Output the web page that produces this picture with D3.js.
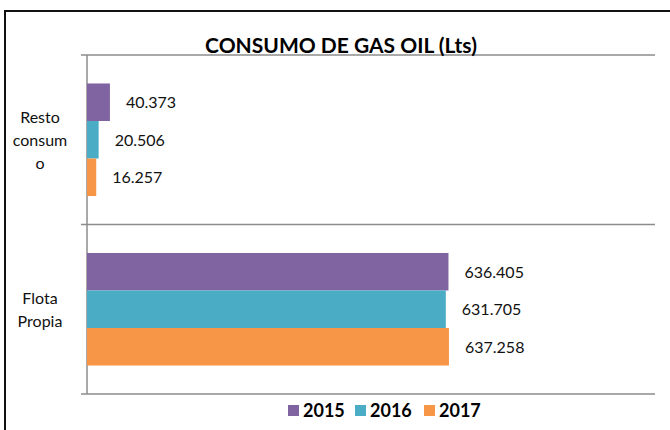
<!DOCTYPE html>
<html>
<head>
<meta charset="utf-8">
<script src="https://cdn.jsdelivr.net/npm/d3@7"></script>
<style>
  body { margin: 0; background: #fff; }
  svg { display: block; font-family: Lato, "Open Sans", sans-serif; }
</style>
</head>
<body>
<svg id="chart" width="670" height="430"></svg>
<script>
// chart data
var categories = ["Resto consumo", "Flota Propia"];
var tickLabels = [["Resto", "consum", "o"], ["Flota", "Propia"]];
var years = ["2015", "2016", "2017"];
var values2015 = [40373, 636405];
var values2016 = [20506, 631705];
var values2017 = [16257, 637258];
var colors = ["#8064a2", "#4bacc6", "#f79646"];

var series = [values2015, values2016, values2017];

var svg = d3.select("#chart"),
    margin = {top: 55, right: 15, bottom: 36, left: 87},
    width = 670 - margin.left - margin.right,
    height = 430 - margin.top - margin.bottom;

// thousands with dots like the original
var fmt = d3.formatLocale({decimal: ",", thousands: ".", grouping: [3], currency: ["", ""]}).format(",.0f");

// outer frame
svg.append("rect")
    .attr("x", 5)
    .attr("y", 11)
    .attr("width", 700)
    .attr("height", 500)
    .style("fill", "none")
    .style("stroke", "#111")
    .style("stroke-width", 2);

var g = svg.append("g").attr("transform", "translate(" + margin.left + "," + margin.top + ")");

var x = d3.scaleLinear()
    .domain([0, 1000000])
    .range([0, width]);

var y = d3.scaleBand()
    .domain(categories)
    .range([0, height])
    .paddingInner(0.336)
    .paddingOuter(0.168);

var y1 = d3.scaleBand()
    .domain(years)
    .range([0, y.bandwidth()]);

// horizontal grid / category separators
var bounds = [0, height / 2, height];
g.selectAll(".grid")
    .data(bounds)
    .enter().append("line")
      .attr("class", "grid")
      .attr("x1", -6)
      .attr("x2", width)
      .attr("y1", function(d) { return d; })
      .attr("y2", function(d) { return d; })
      .style("stroke", "#8c8c8c")
      .style("stroke-width", 1.5);

// vertical axis line
g.append("line")
    .attr("x1", 0)
    .attr("x2", 0)
    .attr("y1", 0)
    .attr("y2", height)
    .style("stroke", "#8c8c8c")
    .style("stroke-width", 1.5);

// bars
var groups = g.selectAll(".yearGroup")
    .data(series)
    .enter().append("g")
      .attr("class", "yearGroup");

groups.selectAll("rect")
    .data(function(d, i) { return d.map(function(v, j) { return {v: v, cat: categories[j], year: years[i], i: i}; }); })
    .enter().append("rect")
      .attr("x", 0)
      .attr("y", function(d) { return y(d.cat) + y1(d.year); })
      .attr("width", function(d) { return x(d.v); })
      .attr("height", y1.bandwidth())
      .style("fill", function(d) { return colors[d.i]; });

// data labels
groups.selectAll("text")
    .data(function(d, i) { return d.map(function(v, j) { return {v: v, cat: categories[j], year: years[i]}; }); })
    .enter().append("text")
      .attr("x", function(d) { return x(d.v) + 16; })
      .attr("y", function(d) { return y(d.cat) + y1(d.year) + y1.bandwidth() / 2 + 6; })
      .style("font-size", "16px")
      .style("fill", "#111")
      .text(function(d) { return fmt(d.v); });

// category labels (wrapped like the original)
var catLabel = g.selectAll(".catLabel")
    .data(categories)
    .enter().append("text")
      .attr("class", "catLabel")
      .attr("text-anchor", "middle")
      .style("font-size", "16px")
      .style("fill", "#111");

catLabel.each(function(c, i) {
  var lines = tickLabels[i];
  var mid = y(c) + y.bandwidth() / 2;
  d3.select(this).selectAll("tspan")
      .data(lines)
      .enter().append("tspan")
        .attr("x", -47)
        .attr("y", function(d, k) { return mid + 6 + (k - (lines.length - 1) / 2) * 23; })
        .text(function(d) { return d; });
});

// title
svg.append("text")
    .attr("x", 341)
    .attr("y", 53)
    .attr("text-anchor", "middle")
    .style("font-size", "21px")
    .style("font-weight", "bold")
    .style("fill", "#000")
    .text("CONSUMO DE GAS OIL (Lts)");

// legend
var legendX = [288, 355, 424];
var legend = svg.selectAll(".legend")
    .data(years)
    .enter().append("g")
      .attr("class", "legend")
      .attr("transform", function(d, i) { return "translate(" + legendX[i] + ",405)"; });

legend.append("rect")
    .attr("width", 11)
    .attr("height", 11)
    .style("fill", function(d, i) { return colors[i]; });

legend.append("text")
    .attr("x", 15)
    .attr("y", 11.5)
    .style("font-size", "18px")
    .style("font-weight", "bold")
    .style("fill", "#000")
    .text(function(d) { return d; });
</script>
</body>
</html>
